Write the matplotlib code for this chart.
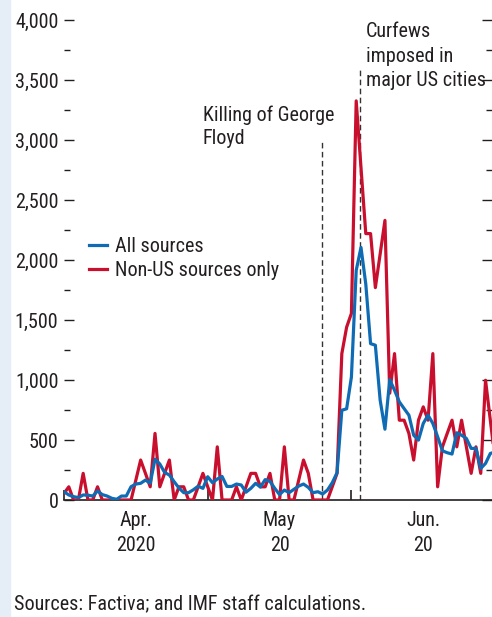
import matplotlib
matplotlib.use('Agg')
import matplotlib.pyplot as plt
import numpy as np
from matplotlib.patches import Rectangle

plt.rcParams['font.family'] = ['Roboto Condensed', 'DejaVu Sans']

# Daily article counts, end of March to end of June 2020
all_sources = [69, 42, 28, 20, 42, 40, 33, 75, 45, 33,
               14, 6, 33, 33, 111, 133, 139, 166, 140, 340,
               300, 230, 208, 152, 100, 61, 61, 85, 115, 97,
               194, 144, 175, 196, 113, 113, 133, 125, 65, 97,
               139, 108, 170, 155, 97, 45, 83, 61, 89, 116,
               133, 105, 61, 69, 50, 83, 144, 227, 748, 760,
               1025, 1913, 2105, 1800, 1303, 1290, 832, 590, 1003, 915,
               818, 762, 707, 540, 499, 638, 707, 638, 527, 410,
               394, 383, 560, 540, 513, 430, 430, 263, 305, 388,
               400]
non_us_sources = [55, 110, 0, 0, 222, 0, 0, 110, 0, 0,
                  0, 0, 0, 0, 0, 166, 333, 222, 110, 555,
                  110, 222, 333, 0, 110, 110, 0, 0, 110, 222,
                  110, 0, 443, 0, 0, 0, 110, 0, 110, 222,
                  222, 110, 110, 222, 0, 0, 443, 0, 0, 166,
                  333, 222, 0, 0, 0, 0, 110, 222, 1220, 1440,
                  1555, 3326, 2770, 2220, 2220, 1770, 2050, 2330, 890, 1220,
                  665, 665, 555, 333, 665, 776, 665, 1220, 110, 443,
                  555, 665, 443, 665, 443, 222, 443, 222, 998, 665,
                  333]

month_labels = ['Apr.\n2020', 'May\n20', 'Jun.\n20']
floyd_day = 53.9
curfew_day = 61.8

days = np.arange(len(all_sources))

fig = plt.figure(figsize=(4.92, 6.17), dpi=100)
fig.patches.append(Rectangle((0, 0), 10 / 492, 1, transform=fig.transFigure,
                             color='#e5edf7', zorder=0))
ax = fig.add_axes([64 / 492, 117 / 617, 428 / 492, 480 / 617])
ax.patch.set_alpha(0)

text_color = '#231f20'
blue = '#0f6cb4'
red = '#c8102e'
fsize = 14.5

ax.vlines(floyd_day, 0, 3000, colors='#333333', linestyles=(0, (4, 2.5)), lw=1.0)
ax.vlines(curfew_day, 0, 3600, colors='#333333', linestyles=(0, (4, 2.5)), lw=1.0)

ax.plot(days, non_us_sources, color=red, lw=2.3, label='Non-US sources only', zorder=3)
ax.plot(days, all_sources, color=blue, lw=2.3, label='All sources', zorder=4)

ax.set_xlim(0, 89.35)
ax.set_ylim(0, 4000)

for side in ['left', 'right', 'top']:
    ax.spines[side].set_visible(False)
ax.spines['bottom'].set_color(text_color)
ax.spines['bottom'].set_linewidth(1.2)

ax.set_yticks(np.arange(0, 4001, 500))
ax.set_yticks(np.arange(250, 4000, 500), minor=True)
ax.set_yticklabels(['{:,}'.format(v) for v in range(0, 4001, 500)])
ax.tick_params(axis='y', which='major', direction='in', length=7, width=1,
               left=True, right=True, labelsize=fsize, colors=text_color, pad=4)
ax.tick_params(axis='y', which='minor', direction='in', length=4, width=1,
               left=True, right=True, colors=text_color)

ax.set_xticks([15, 45, 75])
ax.set_xticklabels(month_labels, linespacing=1.4)
ax.set_xticks([0, 30, 60], minor=True)
ax.tick_params(axis='x', which='major', length=0, labelsize=fsize, colors=text_color, pad=8)
ax.tick_params(axis='x', which='minor', direction='in', length=7, width=1.2, colors=text_color)

ax.text(29.0, 3290, 'Killing of George\nFloyd', fontsize=fsize, color=text_color,
        va='top', ha='left', linespacing=1.3)
ax.text(63.0, 3985, 'Curfews\nimposed in\nmajor US cities', fontsize=fsize, color=text_color,
        va='top', ha='left', linespacing=1.38)

handles, labels = ax.get_legend_handles_labels()
ax.legend(handles[::-1], labels[::-1], loc='upper left', bbox_to_anchor=(0.058, 0.548),
          frameon=False, fontsize=fsize, handlelength=0.9, handletextpad=0.4,
          labelspacing=0.25, borderpad=0, borderaxespad=0, labelcolor=text_color)

fig.text(14 / 492, 1 - 605 / 617, 'Sources: Factiva; and IMF staff calculations.',
         fontsize=fsize, color=text_color, va='center', ha='left')

fig.savefig('out.png', dpi=100)
